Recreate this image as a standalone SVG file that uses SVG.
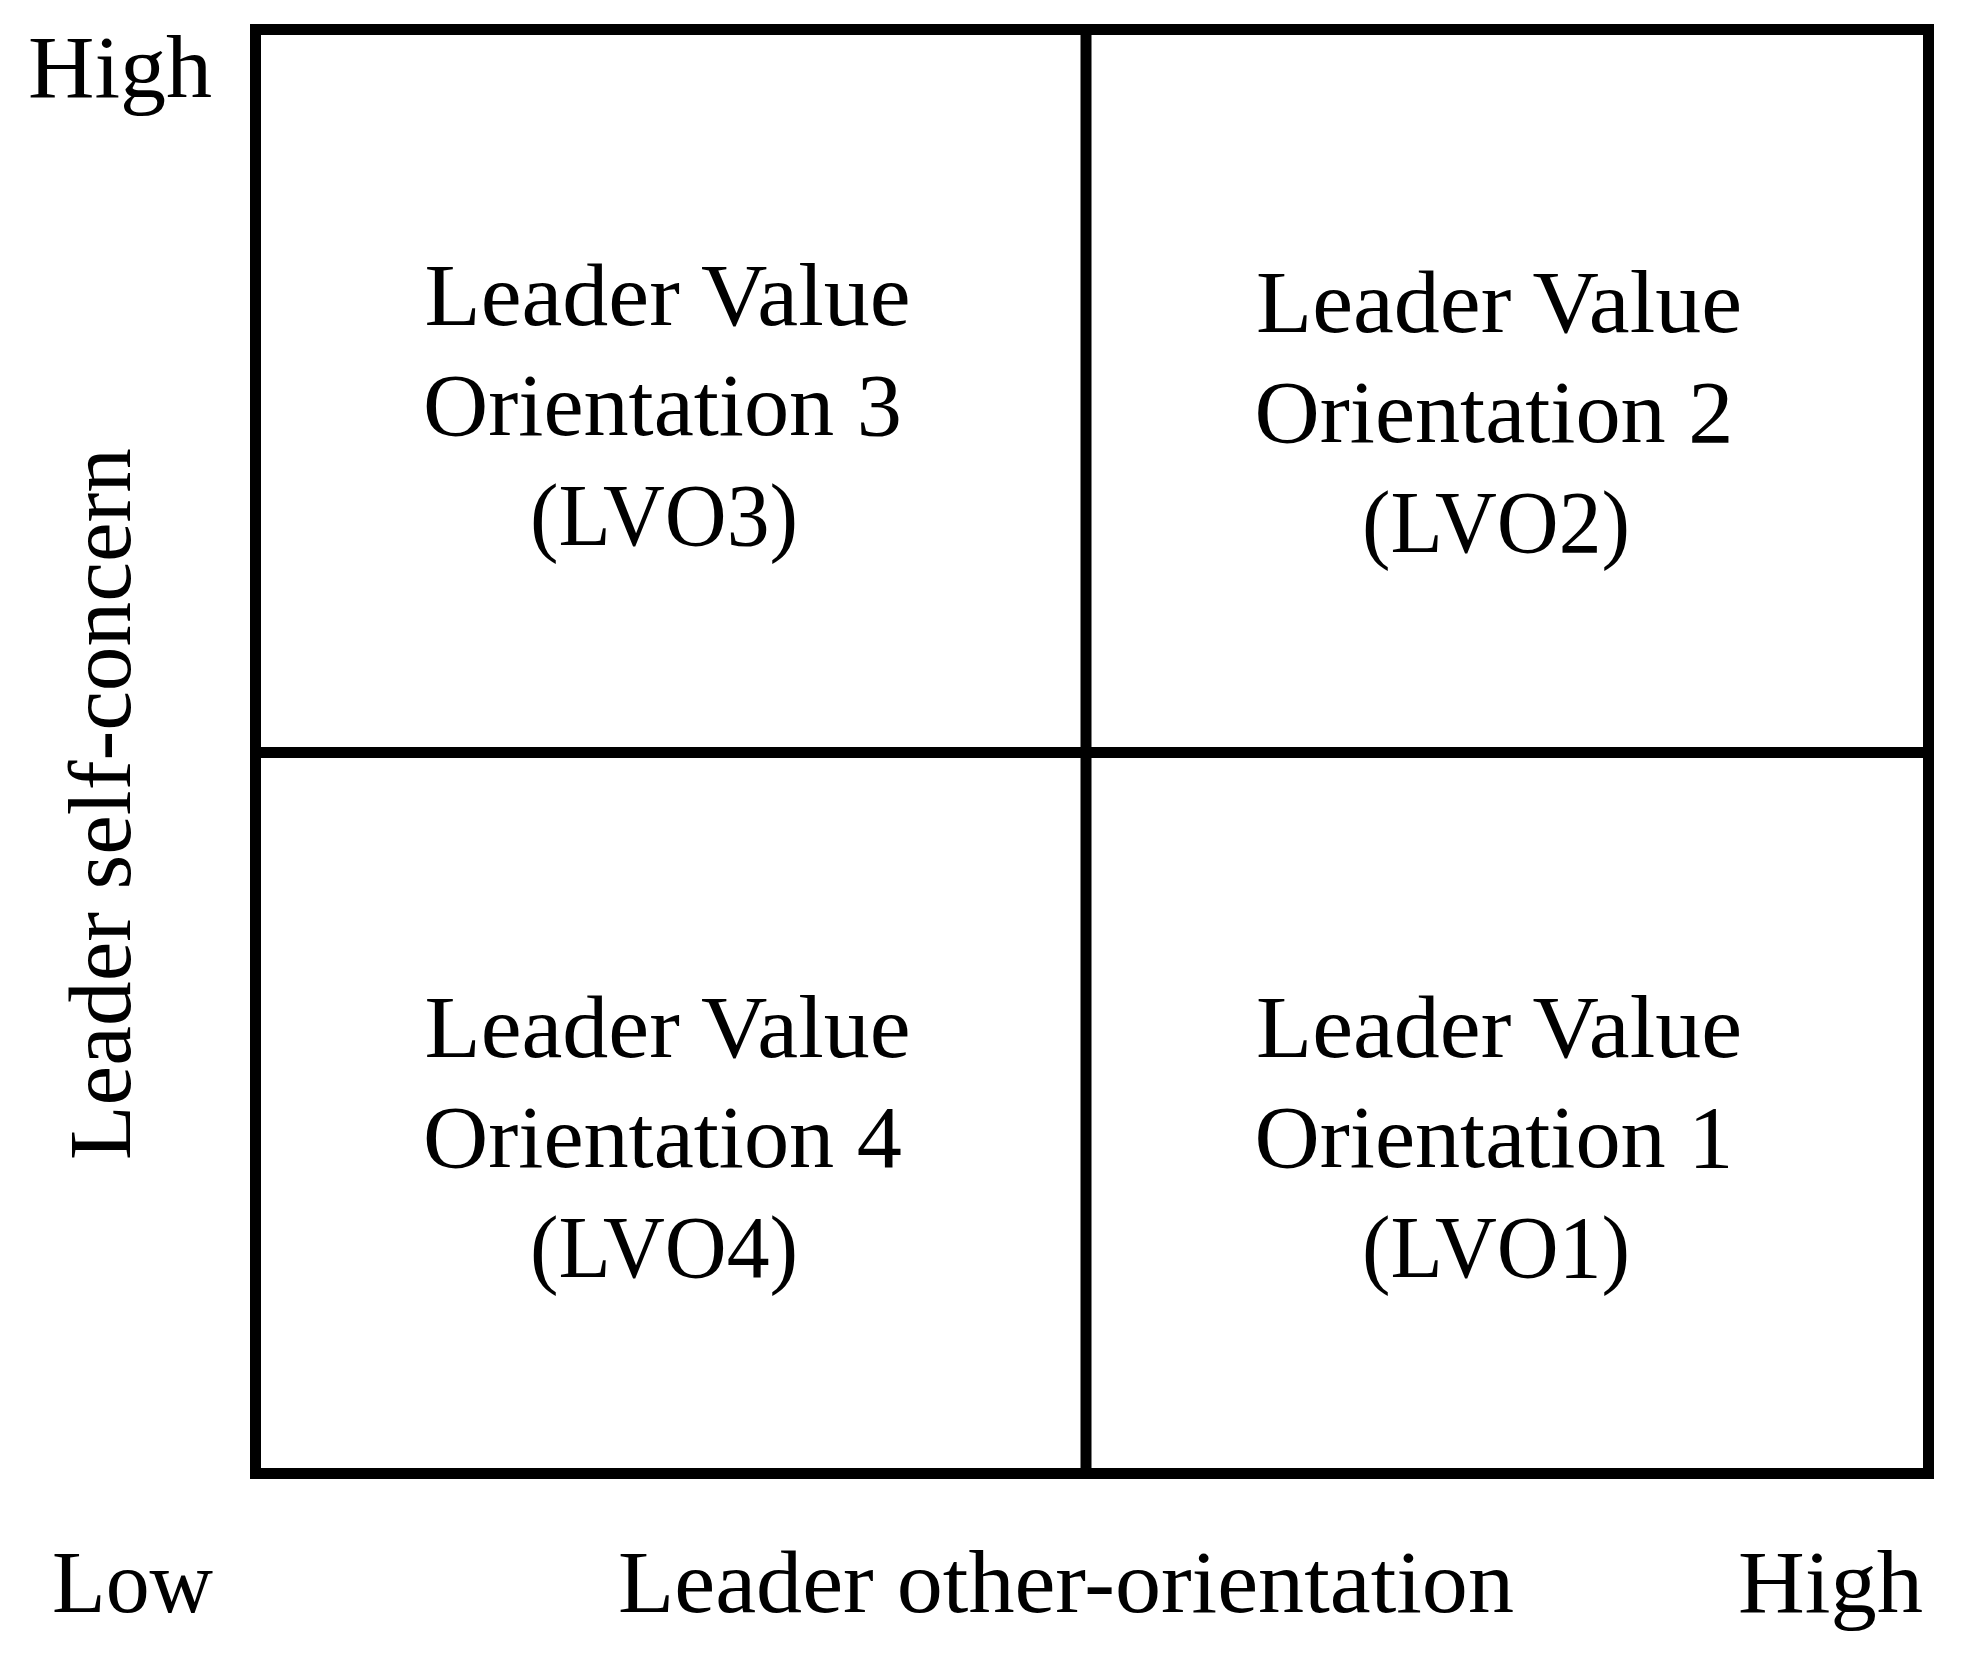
<svg xmlns="http://www.w3.org/2000/svg" width="1967" height="1669" viewBox="0 0 1967 1669">
  <style>
    .t { font-family: "Liberation Serif", "Times New Roman", serif; font-size: 88px; fill: #000; }
    .m { text-anchor: middle; }
    .ln { stroke: #000; stroke-width: 11; fill: none; }
  </style>
  <rect width="1967" height="1669" fill="#fff"/>
  <g id="grid">
    <rect class="ln" x="255.5" y="29.5" width="1673" height="1444"/>
  </g>
  <g id="connectors">
    <line class="ln" x1="1086" y1="29.5" x2="1086" y2="1473.5"/>
    <line class="ln" x1="255.5" y1="752.5" x2="1928.5" y2="752.5"/>
  </g>
  <g id="lvo3">
    <text class="t m" x="667.5" y="325" textLength="486" lengthAdjust="spacingAndGlyphs">Leader Value</text>
    <text class="t m" x="662.5" y="435" textLength="479" lengthAdjust="spacingAndGlyphs">Orientation 3</text>
    <text class="t m" x="664" y="545" textLength="268" lengthAdjust="spacingAndGlyphs">(LVO3)</text>
  </g>
  <g id="lvo2">
    <text class="t m" x="1499" y="332" textLength="486" lengthAdjust="spacingAndGlyphs">Leader Value</text>
    <text class="t m" x="1494" y="442" textLength="479" lengthAdjust="spacingAndGlyphs">Orientation 2</text>
    <text class="t m" x="1496" y="552" textLength="268" lengthAdjust="spacingAndGlyphs">(LVO2)</text>
  </g>
  <g id="lvo4">
    <text class="t m" x="667.5" y="1057" textLength="486" lengthAdjust="spacingAndGlyphs">Leader Value</text>
    <text class="t m" x="662.5" y="1167" textLength="479" lengthAdjust="spacingAndGlyphs">Orientation 4</text>
    <text class="t m" x="664" y="1277" textLength="268" lengthAdjust="spacingAndGlyphs">(LVO4)</text>
  </g>
  <g id="lvo1">
    <text class="t m" x="1499" y="1057" textLength="486" lengthAdjust="spacingAndGlyphs">Leader Value</text>
    <text class="t m" x="1494" y="1167" textLength="479" lengthAdjust="spacingAndGlyphs">Orientation 1</text>
    <text class="t m" x="1496" y="1277" textLength="268" lengthAdjust="spacingAndGlyphs">(LVO1)</text>
  </g>
  <g id="axis-y">
    <text class="t" x="28" y="97" textLength="184" lengthAdjust="spacingAndGlyphs">High</text>
    <text class="t m" transform="translate(130,804) rotate(-90)" x="0" y="0" textLength="712" lengthAdjust="spacingAndGlyphs">Leader self-concern</text>
  </g>
  <g id="axis-x">
    <text class="t" x="52" y="1612" textLength="161" lengthAdjust="spacingAndGlyphs">Low</text>
    <text class="t m" x="1066" y="1612" textLength="896" lengthAdjust="spacingAndGlyphs">Leader other-orientation</text>
    <text class="t" x="1738" y="1612" textLength="185" lengthAdjust="spacingAndGlyphs">High</text>
  </g>
</svg>
